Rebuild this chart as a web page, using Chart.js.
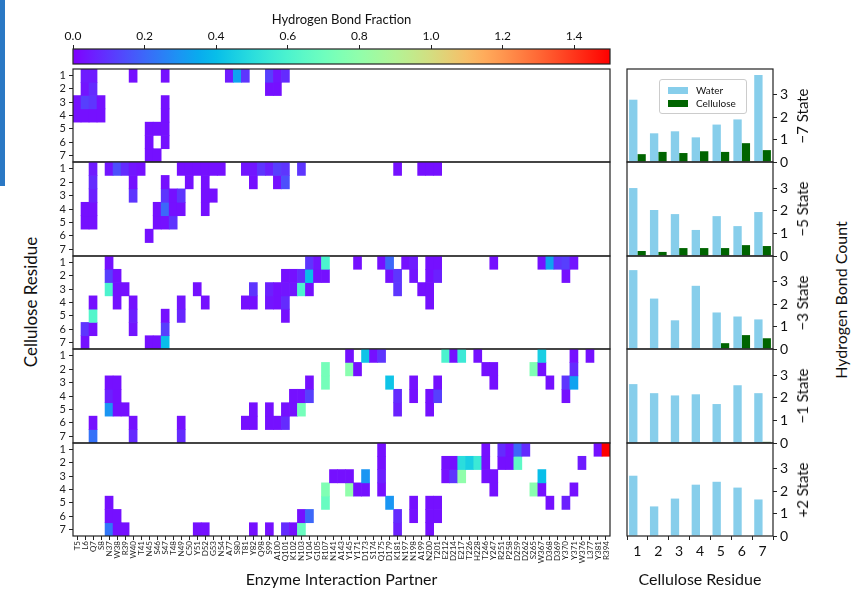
<!DOCTYPE html>
<html>
<head>
<meta charset="utf-8">
<script src="https://cdn.jsdelivr.net/npm/chart.js@4"></script>
<style>
body { margin:0; background:#fff; width:862px; height:591px; overflow:hidden; position:relative; font-family: Lato, sans-serif; }
.box { position:absolute; }
.lbl { position:absolute; color:#111; white-space:nowrap; }
.rot { transform: translate(-50%,-50%) rotate(-90deg); }
.legend { position:absolute; left:659px; top:79px; width:86px; height:33px; border:1px solid #ccc; border-radius:3px; background:rgba(255,255,255,0.85); font-size:10px; color:#111; }
.legend span.p { position:absolute; left:8px; width:20px; height:7px; }
.legend span.t { position:absolute; left:36px; }
</style>
</head>
<body>
<div class="box" style="left:0;top:0;width:5px;height:186px;background:#2a78c4"></div>

<div class="lbl rot" style="left:30px;top:302px;font-size:17px">Cellulose Residue</div>
<div class="lbl rot" style="left:840px;top:300px;font-size:16px">Hydrogen Bond Count</div>

<script>
// enzyme residues along the heatmap x axis
var partners = ['T5','L6','Q7','S8','N37','W38','R39','W40','T41','N45','S46','S47','T48','N49','C50','Y51','D52','G53','N54','A77',
  'S80','T81','Y82','Q98','S99','A100','Q101','K102','N103','V104','G105','R107','N141','A143','Y145','Y171','D173','S174','Q175','D179',
  'K181','N197','N198','A199','N200','T201','E212','D214','E217','T226','H228','T246','Y247','R251','P258','D259','D262','S265','W367','D368',
  'D369','Y370','Y371','W376','L377','Y381','R394'];
var rowLabels = [1, 2, 3, 4, 5, 6, 7];
var stateNames = ['\u22127 State', '\u22125 State', '\u22123 State', '\u22121 State', '+2 State'];
var fractionTicks = [0, 0.2, 0.4, 0.6, 0.8, 1.0, 1.2, 1.4];
var countTicks = [0, 1, 2, 3];
var residues = ['1', '2', '3', '4', '5', '6', '7'];

// hydrogen bond fraction cells: [cellulose residue, partner, fraction]
var cellsM7 = [[1,'L6',.05],[1,'Q7',.05],[1,'W40',.03],[1,'S47',.03],[1,'A77',.05],[1,'S80',.33],[1,'T81',.1],[1,'S99',.12],[1,'A100',.04],[1,'Q101',.08],
  [2,'L6',.04],[2,'Q7',.08],[2,'S99',.03],[2,'A100',.03],
  [3,'T5',.03],[3,'L6',.12],[3,'Q7',.1],[3,'S8',.03],[3,'S47',.03],
  [4,'T5',.03],[4,'L6',.03],[4,'Q7',.03],[4,'S8',.03],[4,'S47',.03],
  [5,'N45',.03],[5,'S46',.03],[5,'S47',.03],
  [6,'N45',.03],[6,'S47',.03],
  [7,'N45',.03],[7,'S46',.03]];
var cellsM5 = [[1,'Q7',.05],[1,'N37',.04],[1,'W38',.15],[1,'R39',.08],[1,'W40',.04],[1,'T41',.03],[1,'N49',.03],[1,'C50',.03],[1,'Y51',.03],[1,'D52',.03],
  [1,'G53',.03],[1,'N54',.03],[1,'T81',.04],[1,'Y82',.04],[1,'Q98',.1],[1,'S99',.06],[1,'A100',.12],[1,'Q101',.1],[1,'N103',.1],[1,'K181',.03],
  [1,'A199',.03],[1,'N200',.03],[1,'T201',.03],
  [2,'Q7',.08],[2,'W40',.03],[2,'S47',.03],[2,'C50',.03],[2,'D52',.03],[2,'Y82',.03],[2,'A100',.03],[2,'Q101',.15],
  [3,'Q7',.06],[3,'W40',.1],[3,'S47',.1],[3,'T48',.03],[3,'N49',.1],[3,'D52',.03],[3,'G53',.03],
  [4,'L6',.03],[4,'Q7',.03],[4,'S46',.03],[4,'S47',.2],[4,'T48',.03],[4,'N49',.03],[4,'D52',.03],
  [5,'L6',.03],[5,'Q7',.03],[5,'S46',.03],[5,'S47',.03],[5,'T48',.1],
  [6,'N45',.03]];
var cellsM3 = [[1,'N37',.03],[1,'V104',.1],[1,'G105',.04],[1,'R107',.6],[1,'Y171',.03],[1,'Q175',.03],[1,'D179',.2],[1,'N197',.03],[1,'N198',.05],
  [1,'N200',.03],[1,'T201',.03],[1,'Y247',.03],[1,'W367',.03],[1,'D368',.33],[1,'D369',.1],[1,'Y370',.12],[1,'Y371',.04],
  [2,'N37',.12],[2,'W38',.03],[2,'Q101',.03],[2,'K102',.03],[2,'N103',.08],[2,'V104',.4],[2,'G105',.03],[2,'R107',.03],[2,'D179',.03],
  [2,'K181',.1],[2,'N198',.04],[2,'N200',.03],[2,'T201',.06],[2,'Y370',.03],
  [3,'N37',.6],[3,'W38',.03],[3,'R39',.03],[3,'Y51',.03],[3,'Y82',.1],[3,'S99',.06],[3,'A100',.03],[3,'Q101',.04],[3,'K102',.04],
  [3,'N103',.6],[3,'V104',.03],[3,'K181',.1],[3,'A199',.03],[3,'N200',.03],
  [4,'Q7',.03],[4,'W38',.03],[4,'W40',.03],[4,'N49',.04],[4,'D52',.03],[4,'T81',.03],[4,'Y82',.03],[4,'S99',.04],[4,'A100',.03],
  [4,'Q101',.08],[4,'N200',.03],
  [5,'Q7',.62],[5,'W40',.06],[5,'S47',.03],[5,'N49',.07],[5,'Q101',.03],
  [6,'L6',.1],[6,'Q7',.03],[6,'W40',.04],[6,'S47',.12],
  [7,'L6',.03],[7,'N45',.03],[7,'S46',.03],[7,'S47',.4]];
var cellsM1 = [[1,'Y145',.03],[1,'D173',.42],[1,'S174',.03],[1,'Q175',.1],[1,'E212',.6],[1,'D214',.03],[1,'E217',.55],[1,'H228',.03],
  [1,'W367',.45],[1,'Y371',.03],[1,'L377',.03],
  [2,'R107',.72],[2,'Y145',.78],[2,'Y171',.03],[2,'T246',.03],[2,'Y247',.03],[2,'S265',.75],[2,'W367',.03],[2,'Y371',.08],
  [3,'N37',.03],[3,'W38',.03],[3,'V104',.03],[3,'R107',.72],[3,'D179',.42],[3,'N198',.03],[3,'T201',.03],[3,'Y247',.03],
  [3,'D368',.03],[3,'Y370',.1],[3,'Y371',.33],
  [4,'N37',.06],[4,'W38',.03],[4,'K102',.03],[4,'N103',.03],[4,'V104',.12],[4,'K181',.08],[4,'N198',.03],[4,'N200',.03],
  [4,'T201',.12],[4,'Y370',.03],
  [5,'N37',.3],[5,'W38',.03],[5,'R39',.03],[5,'Y82',.03],[5,'S99',.03],[5,'Q101',.03],[5,'K102',.03],[5,'N103',.72],[5,'K181',.06],[5,'N200',.03],
  [6,'Q7',.03],[6,'W40',.03],[6,'N49',.03],[6,'T81',.03],[6,'Y82',.03],[6,'S99',.03],[6,'A100',.03],[6,'Q101',.08],
  [7,'Q7',.22],[7,'W40',.08],[7,'N49',.08]];
var cellsP2 = [[1,'Q175',.03],[1,'T246',.03],[1,'R251',.08],[1,'P258',.03],[1,'D259',.2],[1,'D262',.08],[1,'Y381',.03],[1,'R394',1.5],
  [2,'Q175',.03],[2,'E212',.03],[2,'D214',.03],[2,'E217',.5],[2,'T226',.45],[2,'H228',.55],[2,'T246',.03],[2,'R251',.03],[2,'P258',.03],
  [2,'D259',.65],[2,'W376',.05],
  [3,'N141',.03],[3,'A143',.03],[3,'Y145',.03],[3,'D173',.3],[3,'Q175',.06],[3,'E212',.03],[3,'D214',.1],[3,'E217',.8],[3,'T246',.03],
  [3,'Y247',.03],[3,'W367',.4],
  [4,'R107',.75],[4,'Y145',.8],[4,'Y171',.03],[4,'D173',.03],[4,'Q175',.03],[4,'Y247',.03],[4,'S265',.78],[4,'W367',.03],[4,'Y371',.03],
  [5,'N37',.03],[5,'R107',.68],[5,'D179',.3],[5,'N198',.03],[5,'N200',.03],[5,'T201',.03],[5,'D368',.03],[5,'Y370',.06],
  [6,'N37',.03],[6,'W38',.03],[6,'N103',.03],[6,'V104',.2],[6,'K181',.08],[6,'N198',.03],[6,'N200',.03],[6,'T201',.03],
  [7,'N37',.23],[7,'W38',.03],[7,'R39',.03],[7,'Y51',.03],[7,'D52',.03],[7,'Y82',.03],[7,'S99',.03],[7,'Q101',.08],[7,'K102',.03],
  [7,'N103',.68],[7,'K181',.06],[7,'N200',.03]];

// mean hydrogen bond counts per cellulose residue
var waterM7 = [2.78, 1.28, 1.37, 1.1, 1.67, 1.9, 3.88];
var cellM7  = [0.35, 0.45, 0.4, 0.48, 0.45, 0.84, 0.53];
var waterM5 = [3.0, 2.03, 1.85, 1.15, 1.76, 1.32, 1.94];
var cellM5  = [0.22, 0.18, 0.35, 0.35, 0.35, 0.48, 0.44];
var waterM3 = [3.52, 2.25, 1.28, 2.82, 1.63, 1.45, 1.32];
var cellM3  = [0, 0, 0, 0, 0.26, 0.62, 0.48];
var waterM1 = [2.6, 2.2, 2.1, 2.15, 1.72, 2.55, 2.2];
var cellM1  = [0, 0, 0, 0, 0, 0, 0.05];
var waterP2 = [2.69, 1.32, 1.67, 2.29, 2.42, 2.16, 1.63];
var cellP2  = [0, 0, 0, 0, 0, 0, 0.02];

var heatCells = [cellsM7, cellsM5, cellsM3, cellsM1, cellsP2];
var waterAll = [waterM7, waterM5, waterM3, waterM1, waterP2];
var cellAll = [cellM7, cellM5, cellM3, cellM1, cellP2];

// layout
var panelTops = [69, 162, 256, 349, 443, 536];
Chart.defaults.font.family = 'Lato, sans-serif';
Chart.defaults.color = '#111';

// matplotlib 'rainbow' colormap, vmin 0, vmax 1.5
function rainbow(v) {
    var x = Math.min(Math.max(v / 1.5, 0), 1);
    var r = Math.min(1, Math.abs(2 * x - 0.5));
    var g = Math.sin(Math.PI * x);
    var b = Math.cos(Math.PI * x / 2);
    return 'rgb(' + Math.round(r * 255) + ',' + Math.round(g * 255) + ',' + Math.round(b * 255) + ')';
}

// fixed axis size, no extra label padding around the plot area
function fixSize(w, h) {
    return function(s) {
        if (w !== null) s.width = w;
        if (h !== null) s.height = h;
        s.paddingTop = 0; s.paddingBottom = 0; s.paddingLeft = 0; s.paddingRight = 0;
    };
}

var frame = {
    id: 'frame',
    afterDraw: function(chart) {
        var a = chart.chartArea, c = chart.ctx;
        c.save();
        c.strokeStyle = '#222';
        c.lineWidth = 1.2;
        c.strokeRect(a.left, a.top, a.right - a.left, a.bottom - a.top);
        c.restore();
    }
};

function makeCanvas(left, top, w, h) {
    var d = document.createElement('div');
    d.className = 'box';
    d.style.left = left + 'px'; d.style.top = top + 'px';
    d.style.width = w + 'px'; d.style.height = h + 'px';
    var cv = document.createElement('canvas');
    cv.width = w; cv.height = h;
    cv.style.width = w + 'px'; cv.style.height = h + 'px';
    d.appendChild(cv);
    document.body.appendChild(d);
    return cv;
}

// colour bar
function barGradient(chart) {
    var a = chart.chartArea;
    if (!a) return null;
    var sx = chart.scales.x;
    var g = chart.ctx.createLinearGradient(sx.getPixelForValue(0), 0, sx.getPixelForValue(1.5), 0);
    for (var i = 0; i <= 30; i++) g.addColorStop(i / 30, rainbow(1.5 * i / 30));
    return g;
}

new Chart(makeCanvas(0, 0, 862, 65), {
    type: 'bar',
    data: { labels: [''], datasets: [{ data: [[0, 1.5]], backgroundColor: function(ctx) { return barGradient(ctx.chart); },
        borderWidth: 0, barPercentage: 1, categoryPercentage: 1 }] },
    options: {
        indexAxis: 'y', responsive: false, animation: false, events: [],
        layout: { autoPadding: false, padding: { left: 73, right: 252, top: 8, bottom: 1 } },
        plugins: { legend: { display: false }, tooltip: { enabled: false } },
        scales: {
            x: { position: 'top', min: 0, max: 1.5,
                afterBuildTicks: function(s) { s.ticks = fractionTicks.map(function(v) { return { value: v }; }); },
                afterFit: fixSize(null, 41),
                ticks: { callback: function(v) { return Number(v).toFixed(1); }, font: { size: 12 }, padding: 2, color: '#111' },
                grid: { drawOnChartArea: false, tickLength: 4, color: '#222' },
                border: { display: false },
                title: { display: true, text: 'Hydrogen Bond Fraction', font: { size: 13 }, padding: { top: 4, bottom: 2 } } },
            y: { display: false }
        }
    },
    plugins: [frame]
});

// heatmap panels
heatCells.forEach(function(cells, k) {
    var last = k === 4;
    var top = panelTops[k], h = panelTops[k + 1] - top;
    var axisH = last ? 55 : 0;
    var cv = makeCanvas(43, top - 1, 570, h + 2 + axisH);
    var datasets = rowLabels.map(function(r) {
        var vals = partners.map(function(p) {
            var c = cells.find(function(e) { return e[0] === r && e[1] === p; });
            return c ? c[2] : null;
        });
        return {
            data: vals.map(function(v) { return v === null ? null : [r - 0.5, r + 0.5]; }),
            backgroundColor: vals.map(function(v) { return v === null ? 'rgba(0,0,0,0)' : rainbow(v); }),
            grouped: false, barPercentage: 1, categoryPercentage: 1, borderWidth: 0
        };
    });
    new Chart(cv, {
        type: 'bar',
        data: { labels: partners, datasets: datasets },
        options: {
            responsive: false, animation: false, events: [],
            layout: { autoPadding: false, padding: { left: 0, right: 3, top: 1, bottom: 1 } },
            plugins: { legend: { display: false }, tooltip: { enabled: false } },
            scales: {
                x: { display: last, offset: true,
                    grid: { offset: false, drawOnChartArea: false, tickLength: 4, color: '#222' },
                    border: { display: false },
                    ticks: { autoSkip: false, minRotation: 90, maxRotation: 90, padding: 1, font: { size: 8 }, color: '#222' },
                    title: { display: last, text: 'Enzyme Interaction Partner', font: { size: 16 }, padding: { top: 0, bottom: 2 } },
                    afterFit: fixSize(null, axisH) },
                y: { min: 0.5, max: 7.5, reverse: true,
                    afterBuildTicks: function(s) { s.ticks = rowLabels.map(function(v) { return { value: v }; }); },
                    afterFit: fixSize(30, null),
                    grid: { drawOnChartArea: false, tickLength: 4, color: '#222' },
                    border: { display: false },
                    ticks: { autoSkip: false, font: { size: 11 }, color: '#222', padding: 3 } }
            }
        },
        plugins: [frame]
    });
});

// hydrogen bond count bars (canvas reaches past the panel so the 0 label is not cut)
waterAll.forEach(function(water, k) {
    var last = k === 4;
    var top = panelTops[k], h = panelTops[k + 1] - top;
    var axisH = last ? 55 : 0;
    var padB = last ? 1 : 9;
    var cv = makeCanvas(625, top - 1, 172, h + 1 + padB + axisH);
    new Chart(cv, {
        type: 'bar',
        data: { labels: residues, datasets: [
            { label: 'Water', data: water, backgroundColor: '#87ceeb', barPercentage: 1, categoryPercentage: 0.8 },
            { label: 'Cellulose', data: cellAll[k], backgroundColor: '#006400', barPercentage: 1, categoryPercentage: 0.8 }
        ] },
        options: {
            responsive: false, animation: false, events: [],
            layout: { autoPadding: false, padding: { left: 2, right: 2, top: 1, bottom: padB } },
            plugins: { legend: { display: false }, tooltip: { enabled: false } },
            scales: {
                x: { display: last,
                    grid: { drawOnChartArea: false, tickLength: 4, color: '#222' },
                    border: { display: false },
                    ticks: { font: { size: 14 }, color: '#111', padding: 3 },
                    title: { display: last, text: 'Cellulose Residue', font: { size: 16 }, padding: { top: 0, bottom: 2 } },
                    afterFit: fixSize(null, axisH) },
                y: { position: 'right', min: 0, max: 4.15,
                    afterBuildTicks: function(s) { s.ticks = countTicks.map(function(v) { return { value: v }; }); },
                    afterFit: fixSize(22, null),
                    grid: { drawOnChartArea: false, tickLength: 4, color: '#222' },
                    border: { display: false },
                    ticks: { font: { size: 14 }, color: '#111', padding: 3 } }
            }
        },
        plugins: [frame]
    });

    var lab = document.createElement('div');
    lab.className = 'lbl rot';
    lab.style.left = '802px';
    lab.style.top = ((top + panelTops[k + 1]) / 2) + 'px';
    lab.style.fontSize = '15px';
    lab.textContent = stateNames[k];
    document.body.appendChild(lab);
});
</script>

<div class="legend">
  <span class="p" style="top:7px;background:#87ceeb"></span><span class="t" style="top:4px">Water</span>
  <span class="p" style="top:20px;background:#006400"></span><span class="t" style="top:17px">Cellulose</span>
</div>
</body>
</html>
